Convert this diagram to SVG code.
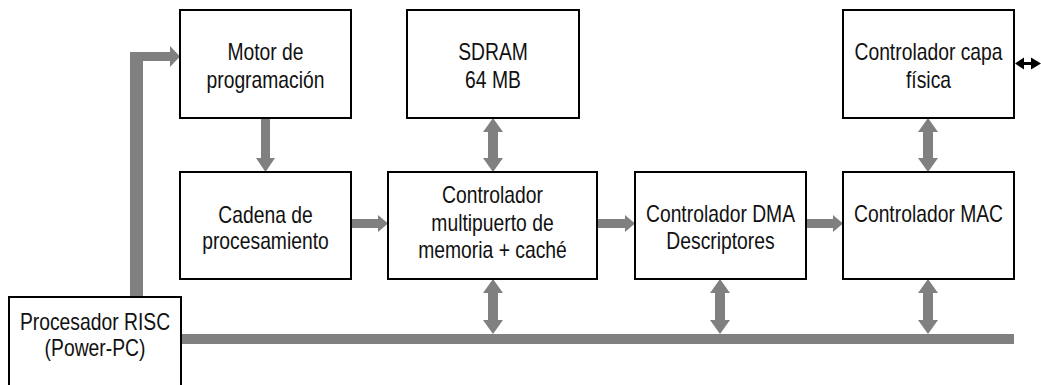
<svg xmlns="http://www.w3.org/2000/svg" width="1041" height="385" viewBox="0 0 1041 385">
<style>
.box{fill:#fff;stroke:#000;stroke-width:2}
.t{font-family:"Liberation Sans",Arial,sans-serif;font-size:23px;fill:#111;text-anchor:middle}
.c{fill:#808080;stroke:none}
</style>
<rect width="1041" height="385" fill="#fff"/>
<g id="connectors">
  <path class="c" d="M130,297 L130,52 L170,52 L170,46 L180,56.5 L170,67 L170,61 L143,61 L143,297 Z"/>
  <rect class="c" x="181" y="334" width="833" height="10"/>
  <path class="c" d="M261,118 L270,118 L270,158 L275,158 L265.5,172 L256,158 L261,158 Z"/>
  <path class="c" d="M351,219 L378,219 L378,215 L388,223.5 L378,232 L378,228 L351,228 Z"/>
  <path class="c" d="M597,219 L625,219 L625,215 L635,223.5 L625,232 L625,228 L597,228 Z"/>
  <path class="c" d="M806,219 L833,219 L833,215 L843,223.5 L833,232 L833,228 L806,228 Z"/>
  <path class="c" d="M493,118 L503,132 L498,132 L498,158 L503,158 L493,172 L483,158 L488,158 L488,132 L483,132 Z"/>
  <path class="c" d="M493,279 L503,293 L498,293 L498,320 L503,320 L493,334 L483,320 L488,320 L488,293 L483,293 Z"/>
  <path class="c" d="M720,279 L730,293 L725,293 L725,320 L730,320 L720,334 L710,320 L715,320 L715,293 L710,293 Z"/>
  <path class="c" d="M928,279 L938,293 L933,293 L933,320 L938,320 L928,334 L918,320 L923,320 L923,293 L918,293 Z"/>
  <path class="c" d="M928,118 L938,132 L933,132 L933,158 L938,158 L928,172 L918,158 L923,158 L923,132 L918,132 Z"/>
  <path fill="#000" d="M1015,63.5 L1024,57.5 L1024,62 L1031,62 L1031,57.5 L1041,63.5 L1031,69.5 L1031,65 L1024,65 L1024,69.5 Z"/>
</g>
<g id="motor">
  <rect class="box" x="180" y="10" width="171" height="108"/>
  <text class="t" transform="translate(265.5,0) scale(0.84,1)"><tspan x="0" y="60">Motor de</tspan><tspan x="0" y="88">programación</tspan></text>
</g>
<g id="sdram">
  <rect class="box" x="407" y="10" width="172" height="108"/>
  <text class="t" transform="translate(493,0) scale(0.84,1)"><tspan x="0" y="60">SDRAM</tspan><tspan x="0" y="88">64 MB</tspan></text>
</g>
<g id="capa">
  <rect class="box" x="843" y="10" width="171" height="108"/>
  <text class="t" transform="translate(928.5,0) scale(0.84,1)"><tspan x="0" y="60">Controlador capa</tspan><tspan x="0" y="88">física</tspan></text>
</g>
<g id="cadena">
  <rect class="box" x="180" y="172" width="171" height="107"/>
  <text class="t" transform="translate(265.5,0) scale(0.84,1)"><tspan x="0" y="223">Cadena de</tspan><tspan x="0" y="249">procesamiento</tspan></text>
</g>
<g id="multipuerto">
  <rect class="box" x="388" y="172" width="209" height="107"/>
  <text class="t" transform="translate(492.5,0) scale(0.84,1)"><tspan x="0" y="203">Controlador</tspan><tspan x="0" y="231">multipuerto de</tspan><tspan x="0" y="258">memoria + caché</tspan></text>
</g>
<g id="dma">
  <rect class="box" x="635" y="172" width="171" height="107"/>
  <text class="t" transform="translate(720.5,0) scale(0.84,1)"><tspan x="0" y="222">Controlador DMA</tspan><tspan x="0" y="249">Descriptores</tspan></text>
</g>
<g id="mac">
  <rect class="box" x="843" y="172" width="171" height="107"/>
  <text class="t" transform="translate(928.5,0) scale(0.84,1)"><tspan x="0" y="222">Controlador MAC</tspan></text>
</g>
<g id="risc">
  <rect class="box" x="9" y="297" width="172" height="100"/>
  <text class="t" transform="translate(95,0) scale(0.84,1)"><tspan x="0" y="330">Procesador RISC</tspan><tspan x="0" y="356">(Power-PC)</tspan></text>
</g>
</svg>
